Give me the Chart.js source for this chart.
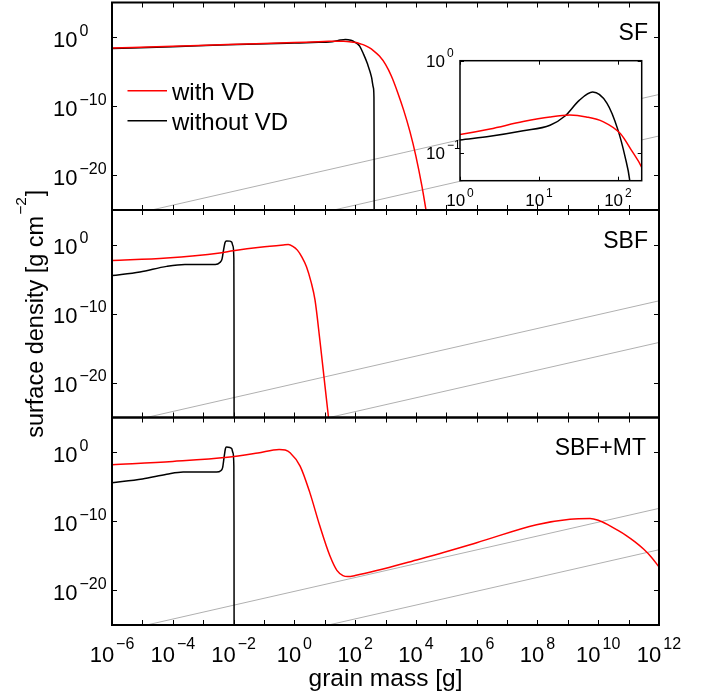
<!DOCTYPE html>
<html>
<head>
<meta charset="utf-8">
<script src="https://cdn.jsdelivr.net/npm/chart.js@4.4.1/dist/chart.umd.min.js"></script>
<style>
  body { margin: 0; background: #fff; }
  #wrap { position: relative; width: 706px; height: 695px; }
  #wrap canvas { position: absolute; left: 0; top: 0; }
</style>
</head>
<body>
<div id="wrap">
  <canvas id="sf" width="706" height="695"></canvas>
  <canvas id="sbf" width="706" height="695"></canvas>
  <canvas id="mt" width="706" height="695"></canvas>
  <canvas id="zoom" width="706" height="695"></canvas>
</div>
<script>
'use strict'

/******************     DATA (log10 of grain mass [g] and surface density [g cm^-2])    ******************/

// SF panel
const sfRedLogMass = [-6, -4, -2.2, 0, 0.38, 0.8, 1.14, 1.39, 1.6, 1.81, 2.03, 2.17, 2.3, 2.45, 2.6, 2.8, 3.0, 3.2, 3.4, 3.6, 3.8, 4.0, 4.2, 4.4];
const sfRedLogSigma = [-1.59, -1.33, -1.08, -0.80, -0.74, -0.66, -0.61, -0.59, -0.61, -0.66, -0.79, -0.97, -1.155, -1.5, -1.95, -2.75, -3.95, -5.7, -8.0, -10.6, -13.6, -17.2, -21.6, -26.8];
const sfBlackLogMass = [-6, -4, -2.2, 0, 0.38, 0.8, 1.14, 1.33, 1.51, 1.68, 1.86, 2.0, 2.09, 2.15, 2.27, 2.4, 2.54, 2.6, 2.62, 2.625, 2.63];
const sfBlackLogSigma = [-1.65, -1.39, -1.12, -0.86, -0.82, -0.76, -0.70, -0.60, -0.43, -0.34, -0.46, -0.75, -1.04, -1.30, -2.4, -3.8, -5.8, -7.3, -8.7, -15, -40];

// SBF panel
const sbfRedLogMass = [-6, -4.2, -2.45, -2.01, -1.13, -0.36, -0.2, -0.05, 0.1, 0.25, 0.4, 0.55, 0.68, 0.84, 1.01, 1.15];
const sbfRedLogSigma = [-2.31, -1.93, -1.2, -0.9, -0.4, -0.06, 0.0, -0.25, -0.8, -1.8, -3.2, -5.4, -8.0, -13.8, -20.5, -26.0];
const sbfBlackLogMass = [-6, -5.08, -4.2, -3.6, -2.6, -2.45, -2.38, -2.33, -2.28, -2.23, -2.12, -2.06, -2.02, -1.99, -1.985, -1.98];
const sbfBlackLogSigma = [-4.48, -3.95, -3.15, -2.87, -2.89, -2.6, -2.1, -0.8, 0.3, 0.52, 0.50, 0.35, -0.2, -2.0, -10, -40];

// SBF+MT panel
const mtRedLogMass = [-6, -4, -2.2, -1.2, -0.5, -0.3, -0.14, 0.19, 0.51, 0.84, 1.17, 1.4, 1.6, 1.75, 2.0, 4.02, 6.0, 7.97, 9.07, 9.73, 10.0, 10.3, 10.6, 10.9, 11.2, 11.5, 11.75, 12.0];
const mtRedLogSigma = [-1.83, -1.35, -0.75, -0.12, 0.39, 0.3, -0.09, -2.02, -5.86, -10.7, -15.0, -17.1, -17.85, -18.0, -17.85, -15.6, -13.1, -10.5, -9.71, -9.61, -9.86, -10.45, -11.2, -12.0, -12.95, -14.05, -15.2, -16.6];
const mtBlackLogMass = [-6, -5, -4.2, -3.66, -2.56, -2.42, -2.36, -2.31, -2.27, -2.23, -2.12, -2.06, -2.02, -1.99, -1.985, -1.98];
const mtBlackLogSigma = [-4.42, -3.9, -3.22, -2.89, -2.89, -2.7, -2.25, -0.7, 0.45, 0.72, 0.65, 0.5, -0.1, -2.0, -10, -40];

// thin grey reference lines
const refLogMass = [-6, 12];
const sfRefUpper = [-26.3, -8.3];
const sfRefLower = [-32.3, -14.3];
const sbfRefUpper = [-26.13, -8.13];
const sbfRefLower = [-32.15, -14.15];
const mtRefUpper = [-26.14, -8.14];
const mtRefLower = [-32.12, -14.12];

// axes
const xTickLogs = [-6, -5, -4, -3, -2, -1, 0, 1, 2, 3, 4, 5, 6, 7, 8, 9, 10, 11, 12];
const xLabelLogs = [-6, -4, -2, 0, 2, 4, 6, 8, 10, 12];
const yTickLogs = [0, -10, -20];
const zoomXTickLogs = [0, 1, 2];
const zoomYTickLogs = [0, -1];
const seriesNames = ['with VD', 'without VD'];

/******************     LAYOUT    ******************/

const W = 706, H = 695;
const plotLeft = 112, plotRight = 659;
const panelTops = [2.5, 210, 417.5];
const panelBottoms = [210, 417.5, 625];
const FONT = '"Liberation Sans", Arial, Helvetica, sans-serif';
const RED = '#ff0000';
const GREY = '#b0b0b0';

const toPoints = (logM, logS) => logM.map((m, i) => ({x: 10 ** m, y: 10 ** logS[i]}));

const curve = (label, logM, logS, color, width) => ({
    label: label,
    data: toPoints(logM, logS),
    borderColor: color,
    borderWidth: width,
    pointRadius: 0,
    fill: false,
    cubicInterpolationMode: 'monotone',
    clip: 0
});
const refLine = (logS) => ({
    label: 'ref',
    data: toPoints(refLogMass, logS),
    borderColor: GREY,
    borderWidth: 1,
    pointRadius: 0,
    fill: false,
    tension: 0,
    clip: 0
});

// "10" with a raised exponent
const drawPower = (ctx, exp, x, y, align, size, supSize, raise) => {
    const sup = exp < 0 ? '\u2212' + (-exp) : String(exp);
    ctx.font = `${size}px ${FONT}`;
    const wb = ctx.measureText('10').width;
    ctx.font = `${supSize}px ${FONT}`;
    const ws = ctx.measureText(sup).width;
    const gap = 2;
    const total = wb + gap + ws;
    const x0 = align === 'center' ? x - total / 2 : (align === 'right' ? x - total : x);
    ctx.textAlign = 'left';
    ctx.textBaseline = 'alphabetic';
    ctx.font = `${size}px ${FONT}`;
    ctx.fillText('10', x0, y);
    ctx.font = `${supSize}px ${FONT}`;
    ctx.fillText(sup, x0 + wb + gap, y - raise);
};

/******************     PANEL PLUGIN    ******************/

const panelFrame = {
    id: 'panelFrame',
    afterDraw(chart, args, opts) {
        const {ctx, chartArea: a} = chart;
        const xs = chart.scales.x, ys = chart.scales.y;
        ctx.save();
        ctx.strokeStyle = '#000';
        ctx.lineWidth = 1;
        ctx.beginPath();
        for (const e of xTickLogs) {
            const px = Math.round(xs.getPixelForValue(10 ** e)) + 0.5;
            ctx.moveTo(px, a.bottom); ctx.lineTo(px, a.bottom - 5);
            ctx.moveTo(px, a.top); ctx.lineTo(px, a.top + 5);
        }
        for (const e of yTickLogs) {
            const py = Math.round(ys.getPixelForValue(10 ** e)) + 0.5;
            ctx.moveTo(a.left, py); ctx.lineTo(a.left + 5, py);
            ctx.moveTo(a.right, py); ctx.lineTo(a.right - 5, py);
        }
        ctx.stroke();
        ctx.lineWidth = 2;
        ctx.strokeRect(a.left, a.top, a.right - a.left, a.bottom - a.top);

        ctx.fillStyle = '#000';
        for (const e of yTickLogs) {
            drawPower(ctx, e, 53, ys.getPixelForValue(10 ** e) + 9.5, 'left', 22, 16, 11);
        }
        ctx.font = `23px ${FONT}`;
        ctx.textAlign = 'right';
        ctx.fillText(opts.name, opts.nameRight, opts.nameBaseline);

        if (opts.legend) {
            const sets = chart.data.datasets;
            [0, 1].forEach((i) => {
                const y = 90.7 + i * 30;
                ctx.strokeStyle = sets[i].borderColor;
                ctx.lineWidth = 1.5;
                ctx.beginPath();
                ctx.moveTo(127.5, y); ctx.lineTo(167, y);
                ctx.stroke();
                ctx.font = `24px ${FONT}`;
                ctx.textAlign = 'left';
                ctx.fillText(sets[i].label, 172, y + 9.3);
            });
        }
        if (opts.bottomAxis) {
            for (const e of xLabelLogs) {
                drawPower(ctx, e, xs.getPixelForValue(10 ** e), 661.5, 'center', 22, 16, 13);
            }
            ctx.font = `24.5px ${FONT}`;
            ctx.textAlign = 'center';
            ctx.fillText('grain mass [g]', (plotLeft + plotRight) / 2, 686);

            // y title, rotated, with superscript
            ctx.translate(43, (panelTops[0] + panelBottoms[2]) / 2);
            ctx.rotate(-Math.PI / 2);
            const big = `23.5px ${FONT}`, small = `15.5px ${FONT}`;
            ctx.font = big;
            const t1 = 'surface density [g cm', t2 = '\u22122', t3 = ']';
            const w1 = ctx.measureText(t1).width, w3 = ctx.measureText(t3).width;
            ctx.font = small;
            const w2 = ctx.measureText(t2).width;
            const x0 = -(w1 + w2 + w3 + 2) / 2;
            ctx.textAlign = 'left';
            ctx.font = big;
            ctx.fillText(t1, x0, 0);
            ctx.font = small;
            ctx.fillText(t2, x0 + w1 + 1, -17);
            ctx.font = big;
            ctx.fillText(t3, x0 + w1 + w2 + 2, 0);
        }
        ctx.restore();
    }
};

const panelOptions = (k, frame) => ({
    responsive: false,
    animation: false,
    devicePixelRatio: 1,
    events: [],
    layout: {
        padding: {left: plotLeft, right: W - plotRight, top: panelTops[k], bottom: H - panelBottoms[k]}
    },
    plugins: {
        legend: {display: false},
        tooltip: {enabled: false},
        panelFrame: frame
    },
    scales: {
        x: {type: 'logarithmic', display: false, min: 1e-6, max: 1e12},
        y: {type: 'logarithmic', display: false, min: 1e-25, max: 1e5}
    }
});

/******************     CHARTS    ******************/

const sfChart = new Chart(document.getElementById('sf'), {
    type: 'line',
    data: {
        datasets: [
            curve(seriesNames[0], sfRedLogMass, sfRedLogSigma, RED, 1.5),
            curve(seriesNames[1], sfBlackLogMass, sfBlackLogSigma, '#000', 1.5),
            refLine(sfRefUpper),
            refLine(sfRefLower)
        ]
    },
    options: panelOptions(0, {name: 'SF', nameRight: 648, nameBaseline: 39.5, legend: true}),
    plugins: [panelFrame]
});

const sbfChart = new Chart(document.getElementById('sbf'), {
    type: 'line',
    data: {
        datasets: [
            curve(seriesNames[0], sbfRedLogMass, sbfRedLogSigma, RED, 1.5),
            curve(seriesNames[1], sbfBlackLogMass, sbfBlackLogSigma, '#000', 1.5),
            refLine(sbfRefUpper),
            refLine(sbfRefLower)
        ]
    },
    options: panelOptions(1, {name: 'SBF', nameRight: 648, nameBaseline: 247.7}),
    plugins: [panelFrame]
});

const mtChart = new Chart(document.getElementById('mt'), {
    type: 'line',
    data: {
        datasets: [
            curve(seriesNames[0], mtRedLogMass, mtRedLogSigma, RED, 1.5),
            curve(seriesNames[1], mtBlackLogMass, mtBlackLogSigma, '#000', 1.5),
            refLine(mtRefUpper),
            refLine(mtRefLower)
        ]
    },
    options: panelOptions(2, {name: 'SBF+MT', nameRight: 646, nameBaseline: 455, bottomAxis: true}),
    plugins: [panelFrame]
});

/******************     INSET (zoom of the SF peak)    ******************/

const zoomFrame = {
    id: 'zoomFrame',
    beforeDatasetsDraw(chart) {
        const {ctx, chartArea: a} = chart;
        ctx.save();
        ctx.fillStyle = '#fff';
        ctx.fillRect(a.left, a.top, a.right - a.left, a.bottom - a.top);
        ctx.restore();
    },
    afterDraw(chart) {
        const {ctx, chartArea: a} = chart;
        const xs = chart.scales.x, ys = chart.scales.y;
        ctx.save();
        ctx.strokeStyle = '#000';
        ctx.lineWidth = 1;
        ctx.beginPath();
        for (const e of zoomXTickLogs) {
            const px = Math.round(xs.getPixelForValue(10 ** e)) + 0.5;
            ctx.moveTo(px, a.bottom); ctx.lineTo(px, a.bottom - 4);
            ctx.moveTo(px, a.top); ctx.lineTo(px, a.top + 4);
        }
        for (const e of zoomYTickLogs) {
            const py = Math.round(ys.getPixelForValue(10 ** e)) + 0.5;
            ctx.moveTo(a.left, py); ctx.lineTo(a.left + 4, py);
            ctx.moveTo(a.right, py); ctx.lineTo(a.right - 4, py);
        }
        ctx.stroke();
        ctx.lineWidth = 1.5;
        ctx.strokeRect(a.left, a.top, a.right - a.left, a.bottom - a.top);
        ctx.fillStyle = '#000';
        for (const e of zoomXTickLogs) {
            drawPower(ctx, e, xs.getPixelForValue(10 ** e), 206, 'center', 17, 12, 9.5);
        }
        for (const e of zoomYTickLogs) {
            drawPower(ctx, e, 426, ys.getPixelForValue(10 ** e) + 6, 'left', 17, 12, 9.5);
        }
        ctx.restore();
    }
};

const zoomChart = new Chart(document.getElementById('zoom'), {
    type: 'line',
    data: {
        datasets: [
            curve(seriesNames[0], sfRedLogMass, sfRedLogSigma, RED, 1.5),
            curve(seriesNames[1], sfBlackLogMass, sfBlackLogSigma, '#000', 1.5)
        ]
    },
    options: {
        responsive: false,
        animation: false,
        devicePixelRatio: 1,
        events: [],
        layout: {padding: {left: 460, right: W - 641.7, top: 60.7, bottom: H - 180.7}},
        plugins: {legend: {display: false}, tooltip: {enabled: false}},
        scales: {
            x: {type: 'logarithmic', display: false, min: 1, max: 200},
            y: {type: 'logarithmic', display: false, min: 0.05, max: 1}
        }
    },
    plugins: [zoomFrame]
});
</script>
</body>
</html>
